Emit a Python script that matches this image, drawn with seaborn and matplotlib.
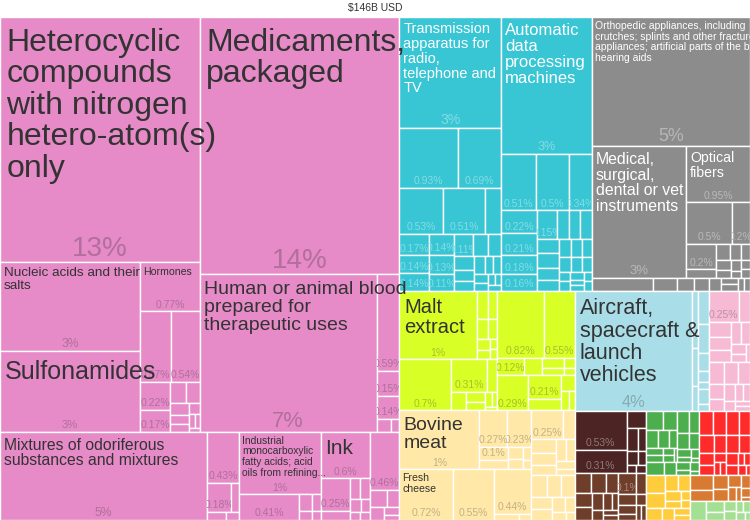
import matplotlib.pyplot as plt
from matplotlib.patches import Rectangle
import numpy as np
import seaborn as sns

# export shares (% of $146B), section -> HS2 group -> HS4 product
chem_organic = [13.0, 3.3, 3.0, 0.77, 0.57, 0.54, 0.22, 0.17, 0.09, 0.08, 0.06, 0.05, 0.04, 0.03, 0.02, 0.02, 0.01]
chem_organic_names = ["Heterocyclic\ncompounds\nwith nitrogen\nhetero-atom(s)\nonly",
                      "Nucleic acids and their\nsalts", "Sulfonamides", "Hormones"]
chem_pharma = [13.6, 7.4, 0.59, 0.15, 0.14, 0.05, 0.03]
chem_pharma_names = ["Medicaments,\npackaged", "Human or animal blood\nprepared for\ntherapeutic uses"]
chem_oils = [4.85, 0.43, 0.18, 0.06, 0.04, 0.03]
chem_oils_names = ["Mixtures of odoriferous\nsubstances and mixtures"]
chem_misc = [1.35, 0.41, 0.06, 0.04, 0.03, 0.02]
chem_misc_names = ["Industrial\nmonocarboxylic\nfatty acids; acid\noils from refining..."]
chem_dyes = [0.6, 0.25, 0.07, 0.06, 0.05, 0.04, 0.03, 0.02, 0.02]
chem_dyes_names = ["Ink"]
chem_soaps = [0.46, 0.08, 0.06, 0.05, 0.03, 0.02]

mach_elec = [3.0, 0.93, 0.69, 0.53, 0.51, 0.2, 0.17, 0.14, 0.14, 0.14, 0.13, 0.11, 0.11,
             0.09, 0.08, 0.07, 0.06, 0.05, 0.05, 0.04, 0.04, 0.03, 0.03, 0.02, 0.02, 0.02]
mach_elec_names = ["Transmission\napparatus for\nradio,\ntelephone and\nTV"]
mach_comp = [3.3, 0.51, 0.5, 0.34, 0.22, 0.21, 0.18, 0.16, 0.15, 0.09, 0.09, 0.09, 0.08, 0.08, 0.07,
             0.06, 0.06, 0.05, 0.05, 0.05, 0.04, 0.04, 0.03, 0.03, 0.03, 0.02, 0.02, 0.02, 0.02]
mach_comp_names = ["Automatic\ndata\nprocessing\nmachines"]

inst_optical = [5.4, 3.3, 0.95, 0.5, 0.2, 0.2, 0.07, 0.06, 0.05, 0.04, 0.04, 0.03, 0.03, 0.02, 0.02, 0.02]
inst_optical_names = ["Orthopedic appliances, including\ncrutches; splints and other fracture\n"
                      "appliances; artificial parts of the body;\nhearing aids",
                      "Medical,\nsurgical,\ndental or vet\ninstruments", "Optical\nfibers"]
inst_other = [0.21, 0.08, 0.06, 0.05, 0.04, 0.03, 0.03, 0.02, 0.02]

food_malt = [1.4, 0.08, 0.07, 0.06, 0.05, 0.04, 0.03, 0.02, 0.02]
food_malt_names = ["Malt\nextract"]
food_bakery = [0.7, 0.31, 0.09, 0.07, 0.05, 0.04, 0.03, 0.02, 0.01]
food_misc = [0.82, 0.55, 0.12, 0.08, 0.06, 0.04, 0.03, 0.02]
food_sauces = [0.29, 0.21, 0.1, 0.06, 0.04, 0.03]

anim_meat = [1.25, 0.27, 0.23, 0.1, 0.07, 0.05, 0.04, 0.03, 0.02]
anim_meat_names = ["Bovine\nmeat"]
anim_dairy = [0.72, 0.55, 0.44, 0.04, 0.02]
anim_dairy_names = ["Fresh\ncheese"]
anim_fish = [0.25, 0.09, 0.09, 0.08, 0.07, 0.06, 0.05, 0.04, 0.03]
anim_other = [0.09, 0.08, 0.08, 0.07, 0.06, 0.05, 0.04, 0.03, 0.02]

trans_air = [3.75, 0.09, 0.06, 0.04]
trans_air_names = ["Aircraft,\nspacecraft &\nlaunch\nvehicles"]
trans_cars = [0.09, 0.08, 0.05, 0.03, 0.02]
trans_ships = [0.04, 0.02]

stone_a = [0.25, 0.09, 0.09, 0.08, 0.07, 0.06, 0.05, 0.04, 0.03, 0.02]
stone_b = [0.09, 0.08, 0.07, 0.06, 0.05, 0.05, 0.04, 0.03, 0.03, 0.02, 0.02]
hides = [0.53, 0.31, 0.09, 0.07, 0.05, 0.04, 0.03, 0.02, 0.02]
mineral_fuel = [0.09, 0.08, 0.07, 0.06, 0.06, 0.05, 0.04, 0.03, 0.03, 0.02, 0.02]
mineral_ore = [0.1, 0.06, 0.05, 0.04, 0.03, 0.03, 0.02, 0.02]
veg_a = [0.08, 0.07, 0.06, 0.05, 0.04, 0.03, 0.03, 0.02, 0.02, 0.01]
veg_b = [0.07, 0.06, 0.05, 0.04, 0.03, 0.02, 0.02, 0.01]
veg_c = [0.06, 0.04, 0.03, 0.02, 0.02, 0.01]
plast_a = [0.09, 0.08, 0.07, 0.06, 0.05, 0.04, 0.03, 0.02, 0.02]
plast_b = [0.08, 0.07, 0.06, 0.05, 0.04, 0.03, 0.02, 0.02, 0.02, 0.01]
paper_a = [0.09, 0.07, 0.06, 0.05, 0.04, 0.03, 0.02, 0.02]
paper_b = [0.05, 0.04, 0.03, 0.02]
wood_a = [0.09, 0.07, 0.06, 0.05, 0.04, 0.03, 0.02]
wood_b = [0.03, 0.02, 0.01]
textile = [0.08, 0.05, 0.04, 0.03, 0.03, 0.02, 0.02, 0.02, 0.01]

sections = [
    ("#E68AC8", [(chem_organic, chem_organic_names), (chem_pharma, chem_pharma_names),
                 (chem_oils, chem_oils_names), (chem_misc, chem_misc_names),
                 (chem_dyes, chem_dyes_names), (chem_soaps, [])]),
    ("#38C6D5", [(mach_elec, mach_elec_names), (mach_comp, mach_comp_names)]),
    ("#8C8C8C", [(inst_optical, inst_optical_names), (inst_other, [])]),
    ("#D8FF26", [(food_malt, food_malt_names), (food_bakery, []), (food_misc, []), (food_sauces, [])]),
    ("#FFE8A8", [(anim_meat, anim_meat_names), (anim_dairy, anim_dairy_names),
                 (anim_fish, []), (anim_other, [])]),
    ("#A9DEE8", [(trans_air, trans_air_names), (trans_cars, []), (trans_ships, [])]),
    ("#F7BAD4", [(stone_a, []), (stone_b, [])]),
    ("#4D2424", [(hides, [])]),
    ("#6F3E2A", [(mineral_fuel, []), (mineral_ore, [])]),
    ("#4CAE4C", [(veg_a, []), (veg_b, []), (veg_c, [])]),
    ("#FF2A2A", [(plast_a, []), (plast_b, [])]),
    ("#FFCC3C", [(paper_a, []), (paper_b, [])]),
    ("#D97A33", [(wood_a, []), (wood_b, [])]),
    ("#A4E094", [(textile, [])]),
]

# name label font sizes (pt)
name_size = {
    chem_organic_names[0]: 23, chem_organic_names[1]: 9.7, chem_organic_names[2]: 18,
    chem_organic_names[3]: 7.6, chem_pharma_names[0]: 23, chem_pharma_names[1]: 14,
    chem_oils_names[0]: 11.3, chem_misc_names[0]: 7.4, chem_dyes_names[0]: 15,
    mach_elec_names[0]: 10.5, mach_comp_names[0]: 12, inst_optical_names[0]: 7.5,
    inst_optical_names[1]: 11.4, inst_optical_names[2]: 10.2, food_malt_names[0]: 14.5,
    anim_meat_names[0]: 14, anim_dairy_names[0]: 7.6, trans_air_names[0]: 15.5,
}

PHI = (1 + np.sqrt(5)) / 2


def squarify(values, x0, y0, x1, y1):
    # d3 squarified treemap, rows kept in input order
    n = len(values)
    out = [None] * n
    value = float(sum(values))
    i0 = i1 = 0
    while i0 < n:
        dx, dy = x1 - x0, y1 - y0
        s = values[i1]
        i1 += 1
        lo = hi = s
        alpha = max(dy / dx, dx / dy) / (value * PHI)
        beta = s * s * alpha
        best = max(hi / beta, beta / lo)
        while i1 < n:
            v = values[i1]
            beta = (s + v) ** 2 * alpha
            r = max(max(hi, v) / beta, beta / min(lo, v))
            if r > best:
                break
            s += v
            lo, hi, best = min(lo, v), max(hi, v), r
            i1 += 1
        if dx < dy:
            yb = y0 + dy * s / value if i1 < n else y1
            x = x0
            for i in range(i0, i1):
                w = dx * values[i] / s
                out[i] = (x, y0, x + w, yb)
                x += w
            y0 = yb
        else:
            xb = x0 + dx * s / value if i1 < n else x1
            y = y0
            for i in range(i0, i1):
                h = dy * values[i] / s
                out[i] = (x0, y, xb, y + h)
                y += h
            x0 = xb
        value -= s
        i0 = i1
    return out


def share_text(v):
    if v >= 1:
        return f"{v:.0f}%"
    return f"{v:.2f}".rstrip("0").rstrip(".") + "%"


sns.set_theme(style="white")
plt.rcParams["font.family"] = ["Liberation Sans", "DejaVu Sans"]

W, H = 750, 503
fig = plt.figure(figsize=(7.5, 5.2), dpi=100)
ax = fig.add_axes([0, 0, 1, H / 520])
ax.set_xlim(0, W)
ax.set_ylim(H, 0)
ax.axis("off")

palette = sns.color_palette([c for c, _ in sections])
sec_tot = [sum(sum(g[0]) for g in groups) for _, groups in sections]
tiles = []
for col, (_, groups), (sx0, sy0, sx1, sy1) in zip(palette, sections, squarify(sec_tot, 0, 0, W, H)):
    g_tot = [sum(g[0]) for g in groups]
    for (vals, names), (gx0, gy0, gx1, gy1) in zip(groups, squarify(g_tot, sx0, sy0, sx1, sy1)):
        for k, (v, r) in enumerate(zip(vals, squarify(vals, gx0, gy0, gx1, gy1))):
            tiles.append((col, v, names[k] if k < len(names) else "", r))

PT = 0.72  # pt per px at 100 dpi
for col, v, name, (x0, y0, x1, y1) in tiles:
    w, h = x1 - x0, y1 - y0
    patch = Rectangle((x0, y0), w, h, facecolor=col, edgecolor="white", linewidth=1.0, zorder=1)
    ax.add_patch(patch)
    lum = 0.299 * col[0] + 0.587 * col[1] + 0.114 * col[2]
    dark_bg = lum < 0.65
    base = np.array([1, 1, 1]) if dark_bg else np.array([0.2, 0.2, 0.2])
    pct_col = tuple(np.array(col) * 0.62 + base * 0.38) if dark_bg else tuple(np.array(col) * 0.7 + base * 0.3)
    if v >= 0.1 and w >= 17 and h >= 13:
        fs = max(7.5, 0.1 * min(w, h))
        t = ax.text((x0 + x1) / 2, y1 - (2 + 0.15 * fs / PT), share_text(v), ha="center",
                    va="baseline", fontsize=fs, color=pct_col, zorder=2)
        t.set_clip_path(patch)
        t.set_clip_on(True)
    if name:
        fs = name_size[name]
        px = fs / PT
        ax.text(x0 + 1.5 + 0.15 * px, y0 + 1 + 0.3 * px, name, ha="left", va="top", fontsize=fs,
                color="white" if dark_bg else "#333333", linespacing=1.07, zorder=3)

fig.text(0.5, 1 - 8 / 520, "\\$146B USD", ha="center", va="center", fontsize=7.5, color="#333333")
fig.savefig("out.png", dpi=100, facecolor="white")
